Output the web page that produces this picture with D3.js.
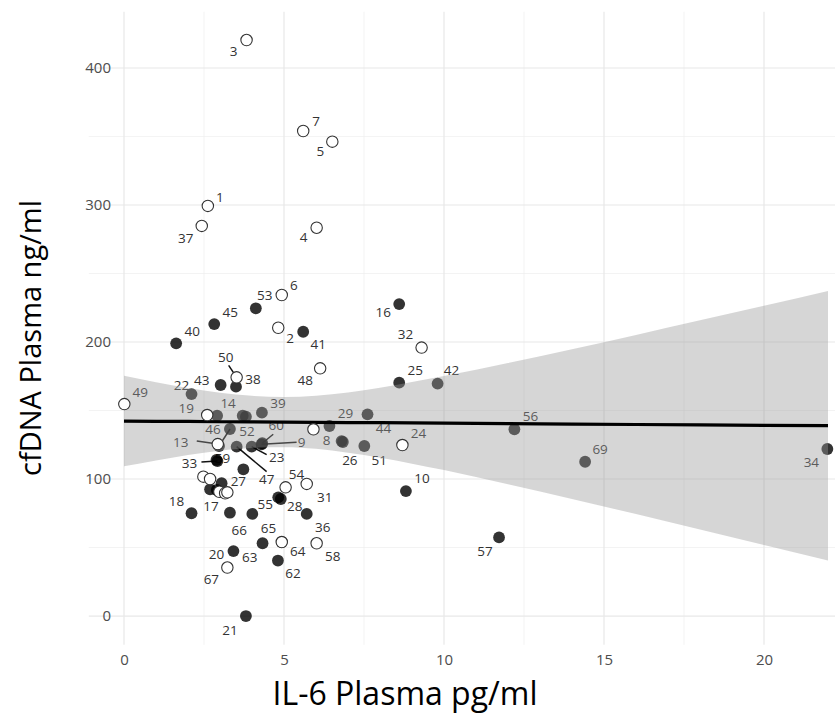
<!DOCTYPE html>
<html>
<head>
<meta charset="utf-8">
<script src="https://cdn.jsdelivr.net/npm/d3@7"></script>
<style>
  body { margin: 0; background: #fff; }
  svg { display: block; font-family: "Open Sans", sans-serif; }
</style>
</head>
<body>
<script>
// data: sample labels, IL-6 (pg/ml), cfDNA (ng/ml), open marker flag
var labels = ["3","7","5","1","37","4","53","6","45","40","2","41","16","32","48","50","38","43","22","49",
              "19","14","","","39","52","46","13","47","23","60","9","59","33","27","","","","","",
              "","","","18","17","66","55","28","54","31","36","65","63","64","58","20","62","67","21","29",
              "44","8","26","51","","24","10","25","42","56","69","34","57"];
var il6 = [3.83,5.60,6.51,2.62,2.43,6.02,4.12,4.93,2.82,1.63,4.82,5.60,8.60,9.30,6.13,3.52,3.50,3.02,2.11,0.01,
           2.60,2.91,3.71,3.81,4.31,3.31,2.97,2.93,3.52,3.99,4.32,4.30,2.89,2.92,3.73,2.48,2.69,3.05,2.69,2.90,
           2.98,3.16,3.23,2.11,3.31,4.01,4.82,4.90,5.05,5.71,5.71,4.33,4.93,4.93,6.02,3.42,4.81,3.23,3.81,6.42,
           7.61,6.80,6.84,7.51,5.92,8.70,8.81,8.60,9.80,12.20,14.41,21.98,11.72];
var cfdna = [420.4,354.0,346.2,299.3,284.7,283.4,224.6,234.3,213.1,199.0,210.4,207.5,227.7,195.9,180.8,174.2,167.4,168.6,162.0,154.7,
             146.7,146.2,146.2,145.5,148.4,136.5,124.1,125.5,123.6,123.6,126.1,125.3,113.9,113.1,107.1,101.7,100.0,96.9,92.5,92.0,
             90.7,89.6,90.3,75.0,75.4,74.5,86.6,85.4,93.9,96.4,74.5,53.1,54.0,54.0,53.1,47.4,40.5,35.4,0,138.7,
             147.2,127.7,127.0,124.1,136.3,124.8,91.2,170.3,169.6,136.3,112.6,121.9,57.4];
var isOpen = [1,1,1,1,1,1,0,1,0,0,1,0,0,1,1,1,0,0,0,1,
              1,0,0,0,0,0,0,1,0,0,0,0,0,0,0,1,1,0,0,0,
              1,1,1,0,0,0,0,0,1,1,0,0,0,1,1,0,0,1,0,0,
              0,0,0,0,1,1,0,0,0,0,0,0,0];

// linear fit with its 95% band
var fitX = [0,1,2,3,4,5,6,7,8,10,12,14,16,18,20,22];
var fitY = [142.3,142.1,142.0,141.8,141.7,141.5,141.4,141.2,141.1,140.8,140.4,140.1,139.8,139.5,139.2,138.9];
var fitLo = [109.3,113.6,117.6,120.7,122.7,123.1,122.0,119.2,115.6,106.5,96.2,85.4,74.4,63.2,51.9,40.5];
var fitHi = [175.3,170.6,166.4,162.9,160.7,159.9,160.8,163.2,166.6,175.1,184.6,194.8,205.2,215.8,226.5,237.3];

var xTicks = [0, 5, 10, 15, 20];
var yTicks = [0, 100, 200, 300, 400];

// label placement (pixel nudges) and repel segments
var nudge = {
  "3":[-13,11],"7":[13,-10],"5":[-12,10],"1":[12,-9],"37":[-16,12],"4":[-13,10],"53":[9,-13],"6":[12,-10],
  "45":[16,-12],"40":[16,-12],"2":[12,11],"41":[15,13],"16":[-16,8],"32":[-16,-13],"48":[-15,12],"50":[-11,-20],
  "38":[17,-7],"43":[-19,-5],"22":[-10,-9],"49":[16,-12],"19":[-21,-7],"14":[11,-12],"39":[16,-9],"52":[17,2],
  "46":[-6,-17],"13":[-37,-2],"47":[30,33],"23":[25,11],"60":[14,-18],"9":[40,-2],"59":[6,-2],"33":[-28,2],
  "27":[-5,12],"18":[-15,-12],"17":[-19,-6],"66":[-13,16],"55":[-13,7],"28":[14,7],"54":[11,-13],"31":[18,13],
  "36":[16,13],"65":[6,-15],"63":[-32,15],"64":[16,9],"58":[16,13],"20":[-17,3],"62":[15,13],"67":[-16,12],
  "21":[-16,14],"29":[16,-13],"44":[16,14],"8":[-15,-1],"26":[7,18],"51":[15,14],"24":[16,-12],"10":[16,-13],
  "25":[16,-12],"42":[14,-13],"56":[16,-13],"69":[15,-12],"34":[-16,13],"57":[-14,14]
};
var segEnd = {"50":[-8,-12],"46":[11,-17],"13":[-21,-3],"47":[30,25],"23":[15,8],"60":[11,-9],"9":[35,-2],"33":[-16,1]};

var width = 835, height = 715;

var points = labels.map(function(d, i) {
  return {label: d, x: il6[i], y: cfdna[i], open: isOpen[i] === 1};
});

var x = d3.scaleLinear().domain([-1.1, 23.1]).range([88.8, 863.2]);
var y = d3.scaleLinear().domain([-21, 441]).range([644.8, 11.8]);

var svg = d3.select("body").append("svg")
    .attr("width", width)
    .attr("height", height);

// grid
var grid = svg.append("g");
grid.selectAll(".vminor").data([2.5, 7.5, 12.5, 17.5, 22.5]).enter().append("line")
    .attr("x1", d => x(d)).attr("x2", d => x(d))
    .attr("y1", y.range()[0]).attr("y2", y.range()[1])
    .attr("stroke", "#ebebeb").attr("stroke-width", 0.6);
grid.selectAll(".hminor").data([50, 150, 250, 350]).enter().append("line")
    .attr("x1", x.range()[0]).attr("x2", x.range()[1])
    .attr("y1", d => y(d)).attr("y2", d => y(d))
    .attr("stroke", "#ebebeb").attr("stroke-width", 0.6);
grid.selectAll(".vmajor").data(xTicks).enter().append("line")
    .attr("x1", d => x(d)).attr("x2", d => x(d))
    .attr("y1", y.range()[0]).attr("y2", y.range()[1])
    .attr("stroke", "#e8e8e8").attr("stroke-width", 1.2);
grid.selectAll(".hmajor").data(yTicks).enter().append("line")
    .attr("x1", x.range()[0]).attr("x2", x.range()[1])
    .attr("y1", d => y(d)).attr("y2", d => y(d))
    .attr("stroke", "#e8e8e8").attr("stroke-width", 1.2);

// axes (labels only)
var xAxis = svg.append("g")
    .attr("transform", "translate(0," + 654 + ")")
    .call(d3.axisBottom(x).tickValues(xTicks).tickSize(0).tickPadding(0));
var yAxis = svg.append("g")
    .attr("transform", "translate(" + 111 + ",0)")
    .call(d3.axisLeft(y).tickValues(yTicks).tickSize(0).tickPadding(0));
[xAxis, yAxis].forEach(function(a) {
  a.select(".domain").remove();
  a.selectAll("text").attr("fill", "#4d4d4d").style("font-size", "15px")
      .style("font-family", "'Open Sans', sans-serif");
});

// repel segments
var labelled = points.filter(d => d.label !== "");
svg.append("g").selectAll("line")
    .data(labelled.filter(d => segEnd[d.label]))
  .enter().append("line")
    .attr("x1", d => x(d.x)).attr("y1", d => y(d.y))
    .attr("x2", d => x(d.x) + segEnd[d.label][0])
    .attr("y2", d => y(d.y) + segEnd[d.label][1])
    .attr("stroke", "#111").attr("stroke-width", 1.5);

// labels
svg.append("g").selectAll("text")
    .data(labelled)
  .enter().append("text")
    .attr("x", d => x(d.x) + nudge[d.label][0])
    .attr("y", d => y(d.y) + nudge[d.label][1])
    .attr("text-anchor", "middle")
    .attr("dy", "0.35em")
    .attr("fill", "#333")
    .style("font-size", "13.5px")
    .text(d => d.label);

// filled points
svg.append("g").selectAll("circle")
    .data(points.filter(d => !d.open))
  .enter().append("circle")
    .attr("cx", d => x(d.x)).attr("cy", d => y(d.y))
    .attr("r", 5.9)
    .attr("fill", "#000").attr("fill-opacity", 0.8);

// confidence band over the filled layer
var fit = fitX.map(function(d, i) { return {x: d, y: fitY[i], lo: fitLo[i], hi: fitHi[i]}; });
svg.append("path")
    .datum(fit)
    .attr("d", d3.area().curve(d3.curveMonotoneX)
        .x(d => x(d.x)).y0(d => y(d.lo)).y1(d => y(d.hi)))
    .attr("fill", "#999").attr("fill-opacity", 0.4);
svg.append("path")
    .datum(fit)
    .attr("d", d3.line().x(d => x(d.x)).y(d => y(d.y)))
    .attr("fill", "none").attr("stroke", "#000").attr("stroke-width", 3.2);

// open points
svg.append("g").selectAll("circle")
    .data(points.filter(d => d.open))
  .enter().append("circle")
    .attr("cx", d => x(d.x)).attr("cy", d => y(d.y))
    .attr("r", 5.7)
    .attr("fill", "#fff").attr("stroke", "#333").attr("stroke-width", 1.1);

// axis titles
svg.append("text")
    .attr("x", 405).attr("y", 705)
    .attr("text-anchor", "middle")
    .style("font-size", "32px")
    .text("IL-6 Plasma pg/ml");
svg.append("text")
    .attr("transform", "translate(41,338) rotate(-90)")
    .attr("text-anchor", "middle")
    .style("font-size", "29px")
    .text("cfDNA Plasma ng/ml");
</script>
</body>
</html>
